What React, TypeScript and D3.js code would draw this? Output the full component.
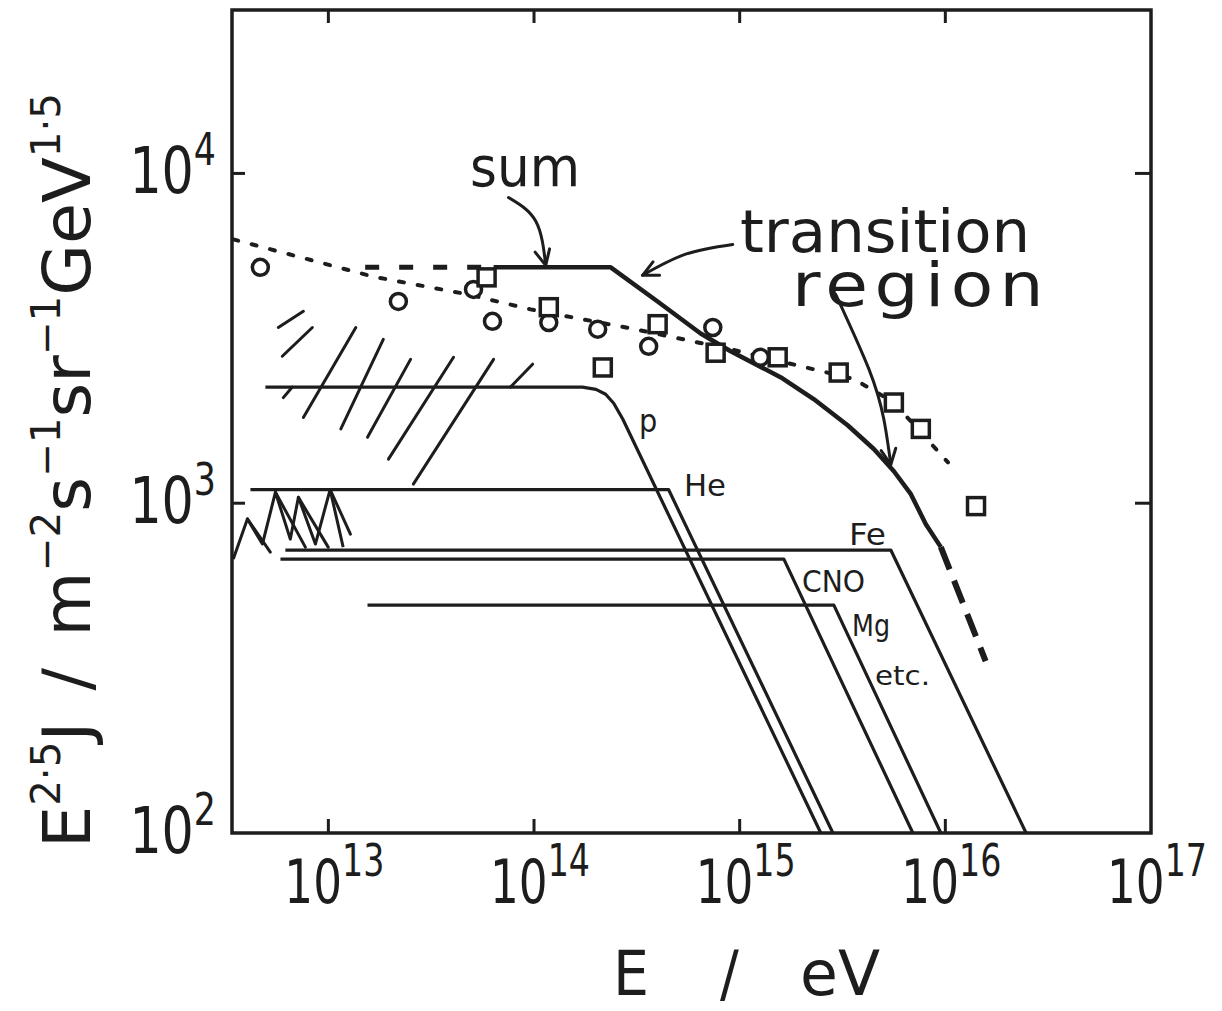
import React from 'react';
import * as d3 from 'd3';

const width = 1222;
const height = 1011;
const ink = '#1d1d1d';
const font = "'Liberation Sans Narrow','DejaVu Sans Condensed','Roboto Condensed','DejaVu Sans',sans-serif";

// axes (decades)
const xTickExps = [13, 14, 15, 16, 17];
const yTickExps = [2, 3, 4];
const xInnerTicks = [13, 14, 15, 16];
const yInnerTicks = [3, 4];

// component spectra: energy (eV) and E^2.5 J
const pE = [4.94e12, 1.72e14, 2.0e14, 2.23e14, 2.44e14, 2.7e14, 2.48e15];
const pJ = [2250, 2250, 2215, 2140, 2010, 1800, 100];
const heE = [4.18e12, 4.51e14, 2.84e15];
const heJ = [1100, 1100, 100];
const feE = [6.18e12, 5.43e15, 2.47e16];
const feJ = [721, 721, 100];
const cnoE = [5.85e12, 1.64e15, 6.95e15];
const cnoJ = [677, 677, 100];
const mgE = [1.55e13, 2.87e15, 9.51e15];
const mgJ = [491, 491, 100];

// sum of components
const sumE = [6.36e13, 2.36e14, 3.99e14, 6.46e14, 9.04e14, 1.58e15, 2.29e15, 3.36e15, 4.49e15, 5.62e15, 6.8e15, 8.04e15, 9.51e15];
const sumJ = [5190, 5190, 4090, 3270, 2890, 2410, 2070, 1720, 1460, 1250, 1065, 863, 736];
const sumLowE = [1.51e13, 6.36e13];
const sumLowJ = [5190, 5190];
const sumHighE = [9.51e15, 1.57e16];
const sumHighJ = [736, 332];

// dotted line through the measurements
const fitE = [3.45e12, 1.64e13, 4.75e13, 9.62e13, 2.95e14, 9.04e14, 3.59e15, 5.62e15, 1.03e16];
const fitJ = [6310, 4870, 4300, 3870, 3390, 2930, 2380, 2020, 1330];

// measurements
const circleE = [4.67e12, 2.19e13, 5.08e13, 6.28e13, 1.18e14, 2.04e14, 3.61e14, 7.4e14, 1.26e15];
const circleJ = [5190, 4090, 4450, 3560, 3530, 3370, 2990, 3410, 2770];
const squareE = [5.88e13, 1.18e14, 2.16e14, 3.99e14, 7.64e14, 1.53e15, 3.03e15, 5.62e15, 7.6e15, 1.41e16];
const squareJ = [4840, 3930, 2580, 3490, 2860, 2770, 2490, 2020, 1680, 980];

// hatched region (segments)
const hatchE1 = [5.71e12, 5.97e12, 6.04e12, 7.56e12, 1.15e13, 1.55e13, 1.96e13, 2.59e13, 7.69e13];
const hatchJ1 = [3410, 2790, 2090, 1820, 1680, 1585, 1360, 1143, 2250];
const hatchE2 = [7.56e12, 8.36e12, 6.68e12, 1.36e13, 1.85e13, 2.51e13, 4.06e13, 6.36e13, 9.84e13];
const hatchJ2 = [3820, 3410, 2250, 3410, 3140, 2730, 2770, 2730, 2640];

// low-energy zigzag marks
const zigE = [3.45e12, 4.04e12, 4.78e12, 5.53e12, 6.53e12, 7.15e12, 8.65e12, 1.02e13, 1.18e13];
const zigJ = [677, 896, 752, 1080, 778, 1042, 752, 1100, 736];
const zigStrokeE1 = [4.04e12, 5.53e12, 7.15e12, 1.02e13];
const zigStrokeJ1 = [896, 1080, 1042, 1100];
const zigStrokeE2 = [5.22e12, 7.73e12, 9.98e12, 1.28e13];
const zigStrokeJ2 = [711, 736, 736, 806];

// annotation arrows
const sumArrowE = [7.52e13, 1.02e14, 1.14e14];
const sumArrowJ = [8450, 7160, 5260];
const transArrowE = [9.25e14, 5.46e14, 3.37e14];
const transArrowJ = [6090, 5690, 4910];
const regionArrowE = [2.93e15, 4.25e15, 5.02e15, 5.43e15];
const regionArrowJ = [4300, 2550, 1800, 1310];

const zip = (es: number[], js: number[]) => es.map((e, i) => [e, js[i]] as [number, number]);

const App = () => {
  const x = d3.scaleLog().domain([3.4e12, 1e17]).range([232, 1151]);
  const y = d3.scaleLog().domain([100, 31300]).range([833, 10]);
  const line = d3.line<[number, number]>().x(d => x(d[0])).y(d => y(d[1]));
  const smooth = d3.line<[number, number]>().x(d => x(d[0])).y(d => y(d[1])).curve(d3.curveNatural);

  const components = [
    { e: pE, j: pJ },
    { e: heE, j: heJ },
    { e: feE, j: feJ },
    { e: cnoE, j: cnoJ },
    { e: mgE, j: mgJ },
  ];

  const arrow = (es: number[], js: number[], key: string) => {
    const pts = zip(es, js);
    const n = pts.length;
    const x1 = x(pts[n - 1][0]), y1 = y(pts[n - 1][1]);
    const x0 = x(pts[n - 2][0]), y0 = y(pts[n - 2][1]);
    const a = Math.atan2(y1 - y0, x1 - x0) + Math.PI;
    const L = 17;
    const head = `M${x1 + L * Math.cos(a - 0.45)},${y1 + L * Math.sin(a - 0.45)}L${x1},${y1}L${x1 + L * Math.cos(a + 0.45)},${y1 + L * Math.sin(a + 0.45)}`;
    return (
      <g key={key} fill="none" stroke={ink} strokeWidth={3} strokeLinecap="round" strokeLinejoin="round">
        <path d={smooth(pts) || ''} />
        <path d={head} />
      </g>
    );
  };

  const x0 = x.range()[0], x1 = x.range()[1];
  const y0 = y.range()[1], y1 = y.range()[0];

  return (
    <svg width={width} height={height} style={{ position: 'absolute', left: 0, top: 0, background: '#fff' }} fontFamily={font}>
      <rect x={0} y={0} width={width} height={height} fill="#fff" />

      {/* frame */}
      <rect x={x0} y={y0} width={x1 - x0} height={y1 - y0} fill="none" stroke={ink} strokeWidth={3.5} />
      {xInnerTicks.map(e => (
        <g key={'xt' + e} stroke={ink} strokeWidth={3}>
          <line x1={x(10 ** e)} x2={x(10 ** e)} y1={y0} y2={y0 + 13} />
          <line x1={x(10 ** e)} x2={x(10 ** e)} y1={y1} y2={y1 - 14} />
        </g>
      ))}
      {yInnerTicks.map(e => (
        <g key={'yt' + e} stroke={ink} strokeWidth={3}>
          <line x1={x0} x2={x0 + 13} y1={y(10 ** e)} y2={y(10 ** e)} />
          <line x1={x1} x2={x1 - 16} y1={y(10 ** e)} y2={y(10 ** e)} />
        </g>
      ))}

      {/* tick labels, squeezed to the narrow lettering of the original */}
      {xTickExps.map(e => (
        <g key={'xl' + e} transform={`translate(${x(10 ** e) + 6},903) scale(0.84,1)`}>
          <text textAnchor="middle" fontSize={60} fill={ink}>
            10<tspan dy={-27} fontSize={44}>{e}</tspan>
          </text>
        </g>
      ))}
      {yTickExps.map(e => (
        <g key={'yl' + e} transform={`translate(216,${y(10 ** e) + 20}) scale(0.88,1)`}>
          <text textAnchor="end" fontSize={64} fill={ink}>
            10<tspan dy={-28} fontSize={44}>{e}</tspan>
          </text>
        </g>
      ))}

      {/* axis titles */}
      <text x={613} y={995} fontSize={62} fill={ink} textLength={36} lengthAdjust="spacingAndGlyphs">E</text>
      <text x={720} y={995} fontSize={62} fill={ink}>/</text>
      <text x={800} y={995} fontSize={62} fill={ink} textLength={80} lengthAdjust="spacingAndGlyphs">eV</text>
      <text transform="translate(90,848) rotate(-90)" fontSize={66} fill={ink} textLength={755} lengthAdjust="spacingAndGlyphs">
        E<tspan dy={-30} fontSize={40}>2·5</tspan><tspan dy={30}>J</tspan><tspan dx={28}>/</tspan><tspan dx={28}>m</tspan><tspan dy={-30} fontSize={40}>−2</tspan><tspan dy={30}>s</tspan><tspan dy={-30} fontSize={40}>−1</tspan><tspan dy={30}>sr</tspan><tspan dy={-30} fontSize={40}>−1</tspan><tspan dy={30}>GeV</tspan><tspan dy={-30} fontSize={40}>1·5</tspan>
      </text>

      {/* hatched region */}
      <g stroke={ink} strokeWidth={3} strokeLinecap="round">
        {hatchE1.map((e, i) => (
          <line key={'h' + i} x1={x(e)} y1={y(hatchJ1[i])} x2={x(hatchE2[i])} y2={y(hatchJ2[i])} />
        ))}
        {zigStrokeE1.map((e, i) => (
          <line key={'zs' + i} x1={x(e)} y1={y(zigStrokeJ1[i])} x2={x(zigStrokeE2[i])} y2={y(zigStrokeJ2[i])} />
        ))}
      </g>
      <path d={line(zip(zigE, zigJ)) || ''} fill="none" stroke={ink} strokeWidth={3} strokeLinejoin="round" />

      {/* component spectra */}
      {components.map((c, i) => (
        <path key={'c' + i} d={line(zip(c.e, c.j)) || ''} fill="none" stroke={ink} strokeWidth={3.2} strokeLinejoin="round" />
      ))}

      {/* dotted fit */}
      <path d={line(zip(fitE, fitJ)) || ''} fill="none" stroke={ink} strokeWidth={4} strokeDasharray="5 14" strokeLinecap="round" />

      {/* sum */}
      <path d={line(zip(sumE, sumJ)) || ''} fill="none" stroke={ink} strokeWidth={4.5} strokeLinejoin="round" />
      <path d={line(zip(sumLowE, sumLowJ)) || ''} fill="none" stroke={ink} strokeWidth={5} strokeDasharray="14 20" />
      <path d={line(zip(sumHighE, sumHighJ)) || ''} fill="none" stroke={ink} strokeWidth={6} strokeDasharray="24 12" />

      {/* measurements */}
      {circleE.map((e, i) => (
        <circle key={'o' + i} cx={x(e)} cy={y(circleJ[i])} r={8} fill="#fff" stroke={ink} strokeWidth={3.5} />
      ))}
      {squareE.map((e, i) => (
        <rect key={'s' + i} x={x(e) - 8.5} y={y(squareJ[i]) - 8.5} width={17} height={17} fill="#fff" stroke={ink} strokeWidth={3.5} />
      ))}

      {/* annotations */}
      {arrow(sumArrowE, sumArrowJ, 'a1')}
      {arrow(transArrowE, transArrowJ, 'a2')}
      {arrow(regionArrowE, regionArrowJ, 'a3')}
      <text x={470} y={186} fontSize={56} fill={ink} textLength={110} lengthAdjust="spacingAndGlyphs">sum</text>
      <text x={740} y={252} fontSize={58} fill={ink} textLength={290} lengthAdjust="spacingAndGlyphs">transition</text>
      <text x={792} y={306} fontSize={60} fill={ink} letterSpacing={5} textLength={258} lengthAdjust="spacingAndGlyphs">region</text>

      <text x={639} y={432} fontSize={32} fill={ink}>p</text>
      <text x={684} y={496} fontSize={30} fill={ink} textLength={42} lengthAdjust="spacingAndGlyphs">He</text>
      <text x={849} y={545} fontSize={30} fill={ink} textLength={37} lengthAdjust="spacingAndGlyphs">Fe</text>
      <text x={802} y={592} fontSize={31} fill={ink} textLength={63} lengthAdjust="spacingAndGlyphs">CNO</text>
      <text x={852} y={636} fontSize={30} fill={ink} textLength={38} lengthAdjust="spacingAndGlyphs">Mg</text>
      <text x={875} y={685} fontSize={27} fill={ink} textLength={55} lengthAdjust="spacingAndGlyphs">etc.</text>
    </svg>
  );
};

export default App;
